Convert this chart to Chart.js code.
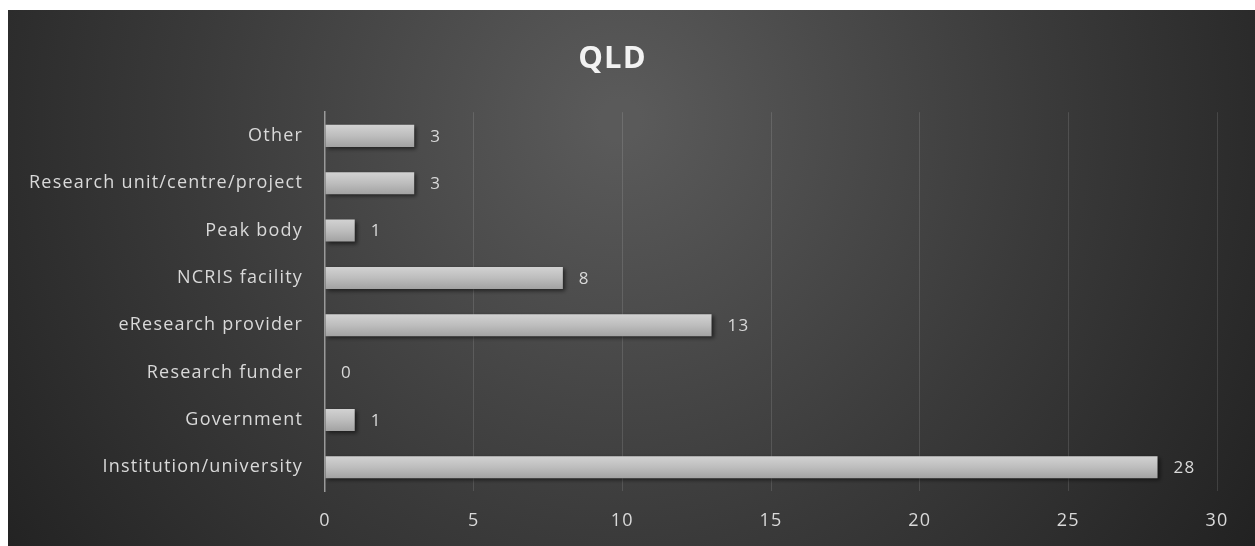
<!DOCTYPE html>
<html lang="en">
<head>
  <meta charset="UTF-8" />
  <title>QLD</title>
  <style>
    html, body { margin: 0; padding: 0; background: #ffffff; }
    .chart-box {
      position: absolute;
      left: 8px;
      top: 10px;
      width: 1247px;
      height: 536px;
    }
  </style>
</head>
<body>
  <div class="chart-box">
    <canvas id="qldChart"></canvas>
  </div>

  <script src="https://cdn.jsdelivr.net/npm/chart.js"></script>
  <script>
    // data (top to bottom)
    const categories = [
      'Other',
      'Research unit/centre/project',
      'Peak body',
      'NCRIS facility',
      'eResearch provider',
      'Research funder',
      'Government',
      'Institution/university'
    ];
    const counts = [3, 3, 1, 8, 13, 0, 1, 28];
    const xTicks = [0, 5, 10, 15, 20, 25, 30];

    const FONT = "'Open Sans', sans-serif";

    // dark radial backdrop (also loosens the letter spacing a bit)
    const backdrop = {
      id: 'backdrop',
      beforeDraw(chart) {
        const c = chart.ctx;
        const w = chart.width, h = chart.height;
        c.letterSpacing = '1.2px';
        const g = c.createRadialGradient(612, 110, 20, 612, 110, 760);
        g.addColorStop(0, '#5a5a5a');
        g.addColorStop(0.55, '#3a3a3a');
        g.addColorStop(1, '#222222');
        c.save();
        c.fillStyle = g;
        c.fillRect(0, 0, w, h);
        c.restore();
      }
    };

    // soft shadow under the bars
    const barShadow = {
      id: 'barShadow',
      beforeDatasetsDraw(chart) {
        const c = chart.ctx;
        c.save();
        c.shadowColor = 'rgba(0,0,0,0.55)';
        c.shadowBlur = 4;
        c.shadowOffsetX = 2;
        c.shadowOffsetY = 2;
      },
      afterDatasetsDraw(chart) {
        chart.ctx.restore();
      }
    };

    // value labels at the end of each bar
    const valueLabels = {
      id: 'valueLabels',
      afterDatasetsDraw(chart) {
        const c = chart.ctx;
        const meta = chart.getDatasetMeta(0);
        c.save();
        c.fillStyle = '#d9d9d9';
        c.font = '17px ' + FONT;
        c.textAlign = 'left';
        c.textBaseline = 'middle';
        meta.data.forEach((bar, i) => {
          c.fillText(String(counts[i]), bar.x + 16, bar.y + 1);
        });
        c.restore();
      }
    };

    function barFill(context) {
      const chart = context.chart;
      if (!chart.chartArea || !chart.scales.y) return '#bdbdbd';
      const yc = chart.scales.y.getPixelForValue(context.dataIndex);
      const g = chart.ctx.createLinearGradient(0, yc - 11, 0, yc + 11);
      g.addColorStop(0, '#d2d2d2');
      g.addColorStop(0.5, '#bdbdbd');
      g.addColorStop(1, '#a2a2a2');
      return g;
    }

    const ctx = document.getElementById('qldChart').getContext('2d');
    new Chart(ctx, {
      type: 'bar',
      data: {
        labels: categories,
        datasets: [{
          data: counts,
          backgroundColor: barFill,
          borderWidth: 0,
          barPercentage: 0.465,
          categoryPercentage: 1
        }]
      },
      plugins: [backdrop, barShadow, valueLabels],
      options: {
        indexAxis: 'y',
        responsive: true,
        maintainAspectRatio: false,
        animation: false,
        layout: { padding: { left: 0, right: 38, top: 0, bottom: 0 } },
        plugins: {
          legend: { display: false },
          tooltip: { enabled: false },
          title: {
            display: true,
            text: 'QLD',
            color: '#f2f2f2',
            font: { family: FONT, size: 31, weight: 'bold' },
            padding: { top: 31, bottom: 34 }
          }
        },
        scales: {
          x: {
            min: 0,
            max: 30,
            afterBuildTicks(scale) {
              scale.ticks = xTicks.map(v => ({ value: v }));
            },
            afterFit(scale) { scale.height = 55; },
            border: { display: false },
            grid: {
              drawTicks: false,
              color: c => (c.tick && c.tick.value === 0) ? 'rgba(0,0,0,0)' : 'rgba(255,255,255,0.12)',
              lineWidth: 1
            },
            ticks: {
              color: '#d9d9d9',
              padding: 19,
              font: { family: FONT, size: 18 }
            }
          },
          y: {
            afterFit(scale) { scale.width = 317; },
            border: { display: true, color: '#9a9a9a', width: 1.5 },
            grid: { display: false, drawTicks: false },
            ticks: {
              color: '#d9d9d9',
              padding: 22,
              font: { family: FONT, size: 18 }
            }
          }
        }
      }
    });
  </script>
</body>
</html>
